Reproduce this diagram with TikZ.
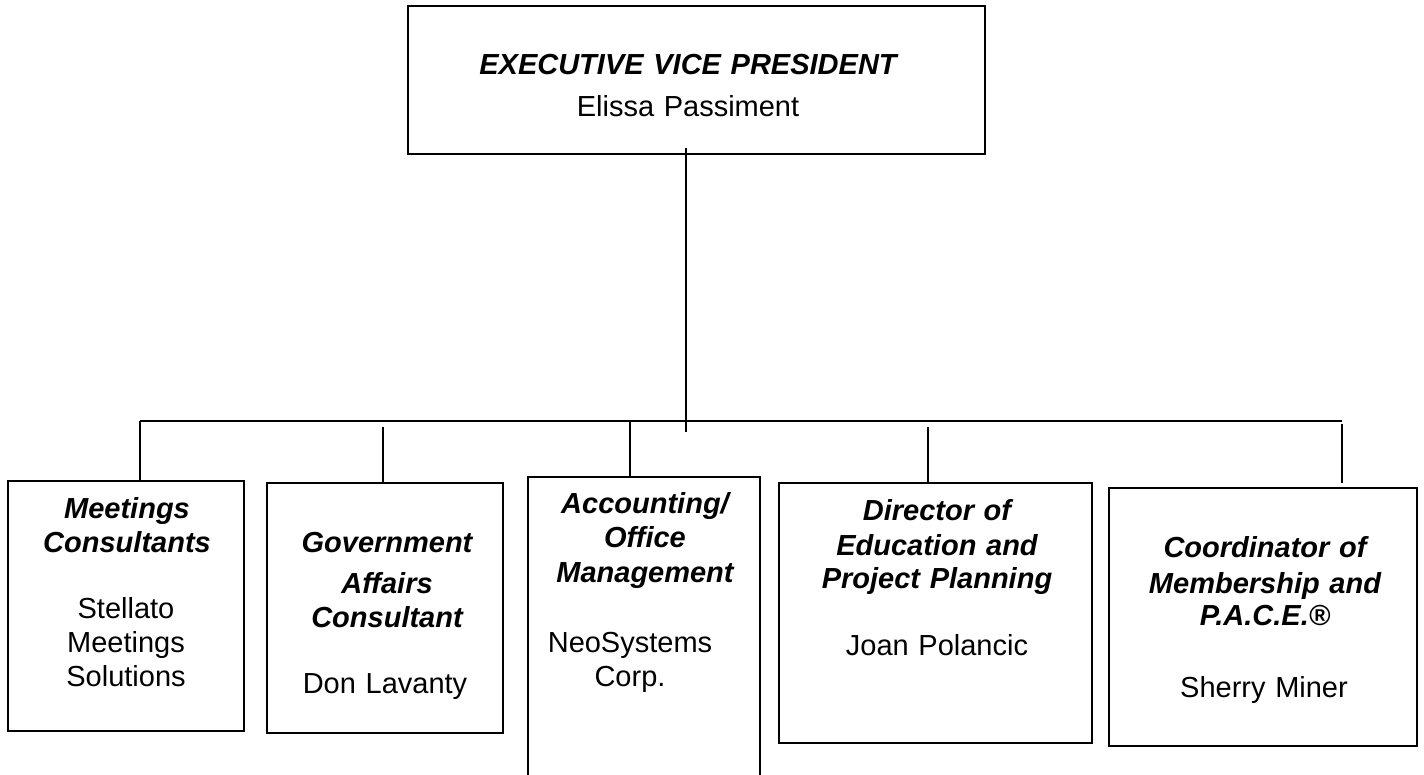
\documentclass[tikz,border=0pt]{standalone}
\usepackage{fontspec}
\setmainfont{Liberation Sans}
\begin{document}
\begin{tikzpicture}[x=1pt,y=-1pt,
  orgbox/.style={draw,line width=1.6pt,inner sep=0pt},
  wire/.style={line width=1.6pt},
  title/.style={anchor=base,inner sep=0pt,align=center,text width=#1,
    font=\fontsize{29}{34}\selectfont\bfseries\itshape},
  person/.style={anchor=base,inner sep=0pt,align=center,text width=#1,
    font=\fontsize{29}{34}\selectfont}]
\useasboundingbox (0,0) rectangle (1424,775);

% top of the chart
\node[orgbox,minimum width=577pt,minimum height=148pt] (evp) at (696.5,80) {};
\node[title=560pt] (evpT) at (688,75) {EXECUTIVE VICE PRESIDENT};
\node[person=560pt] (evpN) at (688,117) {Elissa Passiment};

% the five reporting boxes
\node[orgbox,minimum width=236pt,minimum height=250pt] (b1) at (126,606) {};
\node[orgbox,minimum width=236pt,minimum height=250pt] (b2) at (385,608) {};
\node[orgbox,minimum width=232pt,minimum height=313pt] (b3) at (644,633.5) {};
\node[orgbox,minimum width=313pt,minimum height=260pt] (b4) at (935.5,613) {};
\node[orgbox,minimum width=308pt,minimum height=258pt] (b5) at (1263,617) {};

\node[title=225pt] (b1T) at (127,518) {Meetings\\Consultants};
\node[person=225pt] (b1N) at (126,618) {Stellato\\Meetings\\Solutions};

\node[title=225pt] (b2T) at (387,552) {Government\\[7pt]Affairs\\Consultant};
\node[person=225pt] (b2N) at (385,693) {Don Lavanty};

\node[title=225pt] (b3T) at (645,513) {Accounting/\\Office\\[1pt]Management};
\node[person=225pt] (b3N) at (630,652) {NeoSystems\\Corp.};

\node[title=300pt] (b4T) at (937,520) {Director of\\[1pt]Education and\\[-1pt]Project Planning};
\node[person=300pt] (b4N) at (937,655) {Joan Polancic};

\node[title=300pt] (b5T) at (1265,557) {Coordinator of\\[2pt]Membership and\\[-2pt]P.A.C.E.®};
\node[person=300pt] (b5N) at (1264,697) {Sherry Miner};

% connector points
\coordinate (stemTop) at (686,148);
\coordinate (stemEnd) at (686,432);
\coordinate (barL) at (140,421);
\coordinate (barR) at (1342,421);
\coordinate (d2) at (383,427);
\coordinate (d3) at (630,421);
\coordinate (d4) at (928,427);
\coordinate (d5) at (1342,424);
\coordinate (d5end) at (1342,483);

% connectors
\draw[wire] (stemTop) -- (stemEnd);
\draw[wire] (barL) -- (barR);
\draw[wire] (barL) -- (barL |- b1.north);
\draw[wire] (d2) -- (d2 |- b2.north);
\draw[wire] (d3) -- (d3 |- b3.north);
\draw[wire] (d4) -- (d4 |- b4.north);
\draw[wire] (d5) -- (d5end);
\end{tikzpicture}
\end{document}
